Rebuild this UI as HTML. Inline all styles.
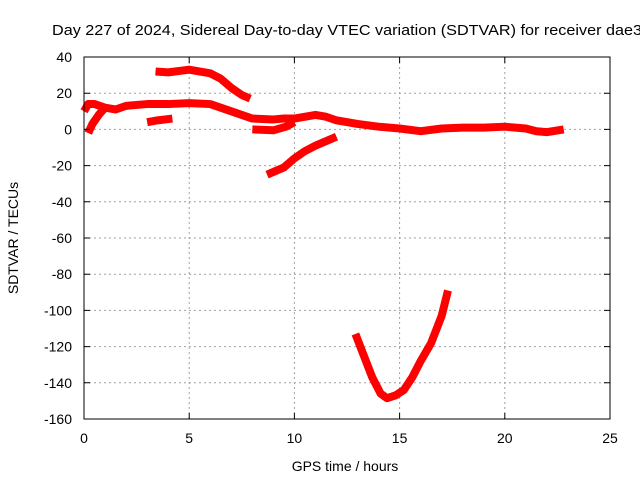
<!DOCTYPE html>
<html><head><meta charset="utf-8"><style>
html,body{margin:0;padding:0;background:#fff;}
svg{display:block;font-family:"Liberation Sans",sans-serif;}
</style></head><body>
<svg id="chart" width="640" height="480">
<text x="52" y="35" font-size="15" textLength="590" lengthAdjust="spacingAndGlyphs" fill="#000">Day 227 of 2024, Sidereal Day-to-day VTEC variation (SDTVAR) for receiver dae3</text>
<g id="grid"></g>
<g id="series"></g>
<rect x="84" y="57" width="526" height="362" fill="none" stroke="#000" stroke-width="1"/>
<g id="ticks"></g>
<text x="345" y="471" font-size="14" text-anchor="middle">GPS time / hours</text>
<text transform="translate(18,238) rotate(-90)" font-size="14" text-anchor="middle">SDTVAR / TECUs</text>
</svg>
<script>
const xTicks=[0,5,10,15,20,25];
const yTicks=[40,20,0,-20,-40,-60,-80,-100,-120,-140,-160];
const segMain=[[0,10],[0.2,14],[0.5,14],[1,12],[1.5,11],[2,13],[3,14],[4,14],[5,14.5],[6,14],[6.5,12],[7,10],[7.5,8],[8,6],[9,5.5],[9.5,6],[10,6],[11,8],[11.5,7],[12,5],[13,3],[14,1.5],[15,0.5],[16,-1],[17,0.5],[18,1],[19,1],[20,1.5],[21,0.5],[21.5,-1],[22,-1.5],[22.8,0]];
const segUpper=[[3.4,32],[4,31.5],[5,33],[6,31],[6.5,28],[7,23],[7.5,19],[7.9,17]];
const segShort=[[3,4],[3.5,5],[4.2,6]];
const segEarly=[[0.2,-2],[0.4,3],[0.7,8],[1,12]];
const segMid=[[8,0],[9,-0.5],[9.6,1.5],[10,4]];
const segRise=[[8.7,-25],[9.5,-21],[10,-16],[10.5,-12],[11,-9],[11.5,-6.5],[12,-4]];
const segDeep=[[12.9,-113],[13.3,-125],[13.7,-137],[14.1,-146],[14.4,-148.5],[14.8,-147],[15.2,-144],[15.6,-137],[16,-128],[16.5,-118],[17,-103],[17.3,-89]];
const allSeries=[segMain,segUpper,segShort,segEarly,segMid,segRise,segDeep];
const X0=84,X1=610,Y0=419,Y1=57;
function sx(v){return X0+(v-0)/(25-0)*(X1-X0);}
function sy(v){return Y0-(v+160)/(200)*(Y0-Y1);}
const NS="http://www.w3.org/2000/svg";
const grid=document.getElementById('grid'),ticks=document.getElementById('ticks'),ser=document.getElementById('series');
xTicks.forEach(t=>{
 const x=sx(t);
 if(t>0&&t<25){const l=document.createElementNS(NS,'line');
 l.setAttribute('x1',x);l.setAttribute('x2',x);l.setAttribute('y1',Y1);l.setAttribute('y2',Y0);
 l.setAttribute('stroke','#a0a0a0');l.setAttribute('stroke-dasharray','2,3');
 
 
 grid.appendChild(l);}
 const tk=document.createElementNS(NS,'path');
 tk.setAttribute('d',`M${x},${Y0}v-6M${x},${Y1}v6`);tk.setAttribute('stroke','#000');
 
 
 ticks.appendChild(tk);
 const tx=document.createElementNS(NS,'text');
 tx.setAttribute('x',x);tx.setAttribute('y',443);tx.setAttribute('font-size','14');tx.setAttribute('text-anchor','middle');
 tx.textContent=t;
 
 
 ticks.appendChild(tx);
});
yTicks.forEach(t=>{
 const y=sy(t);
 if(t<40&&t>-160){const l=document.createElementNS(NS,'line');
 l.setAttribute('x1',X0);l.setAttribute('x2',X1);l.setAttribute('y1',y);l.setAttribute('y2',y);
 l.setAttribute('stroke','#a0a0a0');l.setAttribute('stroke-dasharray','2,3');
 
 
 grid.appendChild(l);}
 const tk=document.createElementNS(NS,'path');
 tk.setAttribute('d',`M${X0},${y}h6M${X1},${y}h-6`);tk.setAttribute('stroke','#000');
 
 
 ticks.appendChild(tk);
 const tx=document.createElementNS(NS,'text');
 tx.setAttribute('x',72);tx.setAttribute('y',y+5);tx.setAttribute('font-size','14');tx.setAttribute('text-anchor','end');
 tx.textContent=t;
 
 
 ticks.appendChild(tx);
});
allSeries.forEach(s=>{
 const p=document.createElementNS(NS,'polyline');
 p.setAttribute('points',s.map(d=>sx(d[0])+','+sy(d[1])).join(' '));
 p.setAttribute('fill','none');p.setAttribute('stroke','#ff0000');p.setAttribute('stroke-width','8');
 p.setAttribute('stroke-linejoin','round');
 
 
 ser.appendChild(p);
});
</script>
</body></html>
